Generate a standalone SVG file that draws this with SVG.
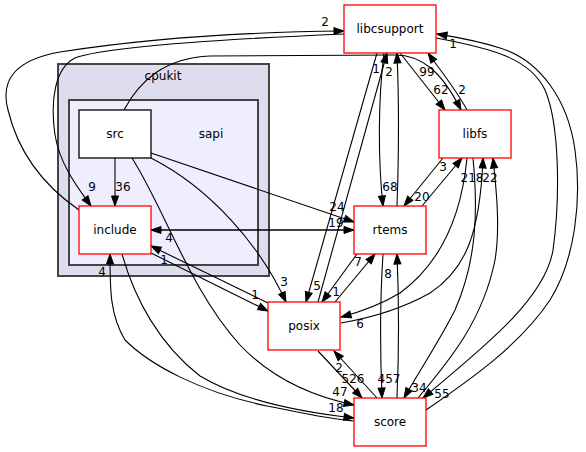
<svg xmlns="http://www.w3.org/2000/svg" width="586" height="452" viewBox="0 0 586 452">
<defs>
<marker id="ah" markerUnits="userSpaceOnUse" markerWidth="10" markerHeight="8" refX="10" refY="4" orient="auto" overflow="visible">
<path d="M0,0.5 L10,4 L0,7.5 z" fill="#000" stroke="#000" stroke-width="1"/>
</marker>
<style>
text{font-family:"DejaVu Sans","Liberation Sans",sans-serif;font-size:12px;fill:#000}
.n text,.c text{text-anchor:middle}
.red{fill:#fff;stroke:#ff0000;stroke-width:1.3}
.blk{fill:#fff;stroke:#000;stroke-width:1.3}
#edges path{fill:none;stroke:#000;stroke-width:1.1}
#edges path.a{marker-end:url(#ah)}
#labels text{text-anchor:middle}
</style>
</defs>
<rect width="586" height="452" fill="#fff"/>
<g id="cluster_cpukit" class="c">
<rect x="58" y="64" width="211" height="212" fill="#ddddee" stroke="#444" stroke-width="2"/>
<text x="163" y="80">cpukit</text>
</g>
<g id="cluster_sapi" class="c">
<rect x="69" y="100" width="189" height="165" fill="#eeeeff" stroke="#444" stroke-width="2"/>
<text x="211" y="138">sapi</text>
</g>
<g id="edges">
<path class="a" d="M115,158 L115,206"/>
<path class="a" d="M124,110 C140,80 165,58 210,56 L395,55 C422,55 442,72 461,110"/>
<path class="a" d="M151,153 L354,222"/>
<path class="a" d="M151,158 C210,188 260,245 286,302"/>
<path class="a" d="M132,158 C165,210 190,290 240,345 C275,382 320,398 354,405"/>
<path class="a" d="M79,210 C50,190 20,160 8,110 C0,80 15,60 60,52 C150,38 250,32 344,31"/>
<path class="a" d="M344,34 C250,38 110,45 75,58 C55,68 50,100 55,135 C60,165 78,188 91,206"/>
<path class="a" d="M151,230 L354,230"/>
<path class="a" d="M354,230 L151,230"/>
<path class="a" d="M151,253 L268,311"/>
<path class="a" d="M268,303 L151,246"/>
<path class="a" d="M122,254 C135,300 160,345 200,376 C240,400 300,412 354,418"/>
<path class="a" d="M354,421 C320,418 290,410 267,406 C200,392 150,365 125,340 C110,315 110,290 110,254"/>
<path class="a" d="M377,53 L306,302"/>
<path class="a" d="M318,302 L387,53"/>
<path class="a" d="M384,53 C378,100 378,160 383,206"/>
<path class="a" d="M397,206 C399,150 399,100 397,53"/>
<path class="a" d="M400,53 L445,110"/>
<path class="a" d="M467,110 C455,88 440,70 428,53"/>
<path class="a" d="M436,38 C490,48 530,58 545,90 C560,125 560,200 553,250 C545,300 480,350 423,398"/>
<path class="a" d="M426,410 C470,380 520,345 550,300 C575,260 582,200 575,150 C568,100 540,60 500,48 C475,40 455,37 437,34"/>
<path class="a" d="M443,158 L404,206"/>
<path class="a" d="M422,206 L462,158"/>
<path class="a" d="M467,158 C462,210 445,260 400,293 C380,305 360,312 341,317"/>
<path class="a" d="M341,323 C370,318 400,310 430,293 C465,270 480,235 483,158"/>
<path class="a" d="M473,158 C478,210 477,260 455,310 C440,340 420,370 404,398"/>
<path class="a" d="M418,398 C450,360 483,320 495,260 C500,230 497,195 493,158"/>
<path class="a" d="M357,254 L322,302"/>
<path class="a" d="M335,302 L375,254"/>
<path class="a" d="M383,254 C380,300 380,350 382,398"/>
<path class="a" d="M397,398 C399,350 399,300 397,254"/>
<path class="a" d="M318,351 L362,398"/>
<path class="a" d="M377,398 L334,351"/>
</g>
<g id="labels">
<text x="123" y="191">36</text>
<text x="92" y="191">9</text>
<text x="325" y="26">2</text>
<text x="169" y="242">4</text>
<text x="164" y="264">1</text>
<text x="102" y="276">4</text>
<text x="284" y="286">3</text>
<text x="255" y="299">1</text>
<text x="317" y="290">5</text>
<text x="336" y="296">1</text>
<text x="358" y="266">7</text>
<text x="337" y="211">24</text>
<text x="336" y="227">19</text>
<text x="390" y="191">68</text>
<text x="376" y="73">1</text>
<text x="389" y="76">2</text>
<text x="427" y="76">99</text>
<text x="441" y="94">62</text>
<text x="462" y="94">2</text>
<text x="453" y="48">1</text>
<text x="443" y="171">3</text>
<text x="422" y="201">20</text>
<text x="472" y="182">218</text>
<text x="490" y="182">22</text>
<text x="360" y="328">6</text>
<text x="388" y="278">8</text>
<text x="339" y="372">2</text>
<text x="353" y="383">526</text>
<text x="389" y="383">457</text>
<text x="419" y="392">34</text>
<text x="442" y="398">55</text>
<text x="340" y="396">47</text>
<text x="336" y="412">18</text>
</g>
<g id="node_src" class="n">
<rect class="blk" x="79" y="110" width="72" height="48"/>
<text x="115" y="138">src</text>
</g>
<g id="node_include" class="n">
<rect class="red" x="79" y="206" width="72" height="48"/>
<text x="115" y="234">include</text>
</g>
<g id="node_libcsupport" class="n">
<rect class="red" x="344" y="5" width="92" height="48"/>
<text x="390" y="33">libcsupport</text>
</g>
<g id="node_libfs" class="n">
<rect class="red" x="439" y="110" width="72" height="48"/>
<text x="475" y="138">libfs</text>
</g>
<g id="node_rtems" class="n">
<rect class="red" x="354" y="206" width="72" height="48"/>
<text x="390" y="234">rtems</text>
</g>
<g id="node_posix" class="n">
<rect class="red" x="268" y="302" width="72" height="48"/>
<text x="304" y="330">posix</text>
</g>
<g id="node_score" class="n">
<rect class="red" x="354" y="398" width="72" height="48"/>
<text x="390" y="426">score</text>
</g>
</svg>
